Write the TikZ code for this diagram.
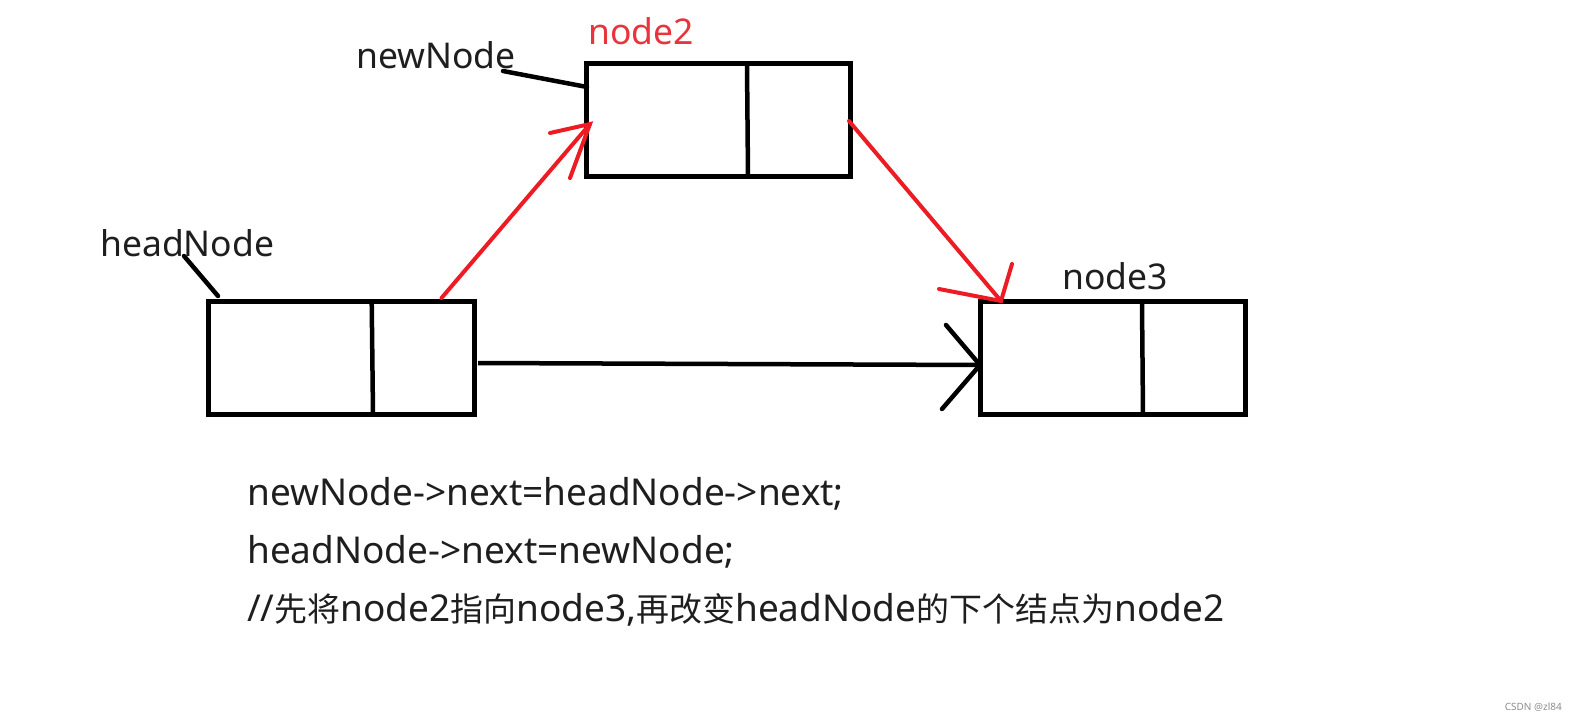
\documentclass[tikz,border=0pt]{standalone}
\usepackage{fontspec}
\setmainfont{Noto Sans}
\newfontfamily\cjk[Scale=0.89]{Noto Sans CJK SC}
\definecolor{pen}{HTML}{ED1C24}
\definecolor{lbl}{HTML}{E8343C}
\definecolor{ink}{HTML}{1E1E1E}
\begin{document}
\begin{tikzpicture}[x=1pt,y=-1pt,
  box/.style={draw=black,line width=5pt,rectangle,inner sep=0pt,outer sep=0pt,minimum width=#1,minimum height=113pt},
  lab/.style={anchor=base west,inner sep=0pt,text=ink,font=\fontsize{35.5}{40}\selectfont},
  code/.style={anchor=base west,inner sep=0pt,text=ink,font=\fontsize{37}{44}\selectfont},
  blk/.style={draw=black,line width=4.5pt,line cap=round},
  red/.style={draw=pen,line width=4pt,line cap=round}]
\useasboundingbox (0,0) rectangle (1572,723);
% boxes
\node[box=266pt] (h) at (341.7,358) {};
\node[box=264pt] (n2) at (718,120.2) {};
\node[box=265pt] (n3) at (1112.5,358) {};
% dividers
\draw[blk,line cap=butt] (371.7,302) -- (373,414);
\draw[blk,line cap=butt] (747,65) -- (748,176);
\draw[blk,line cap=butt] (1142,304) -- (1143,414);
% labels
\node[lab] (tH) at (100,256) {headNode};
\node[lab] (tN) at (356,68) {newNode};
\node[lab,text=lbl] (t2) at (588,44) {node2};
\node[lab] (t3) at (1062,289) {node3};
% pointer lines
\coordinate (pH1) at (184,256); \coordinate (pH2) at (218,296);
\draw[blk] (pH1) -- (pH2);
\coordinate (pN1) at (503,71); \coordinate (pN2) at (587,87);
\draw[blk] (pN1) -- (pN2);
% black arrow headNode -> node3
\coordinate (bS) at (478,363); \coordinate (bT) at (980,365);
\coordinate (bA) at (946,325); \coordinate (bB) at (942,409);
\draw[blk,line cap=butt] (bS) -- (bT);
\draw[blk] (bA) -- (bT) -- (bB);
% red arrow headNode -> node2
\coordinate (r1S) at (441.5,298); \coordinate (r1T) at (590,124);
\coordinate (r1A) at (550,133); \coordinate (r1B) at (570,178);
\draw[red] (r1S) -- (r1T);
\draw[red] (r1A) -- (r1T) -- (r1B);
% red arrow node2 -> node3
\coordinate (r2S) at (849,121); \coordinate (r2T) at (1001,301);
\coordinate (r2A) at (939,289); \coordinate (r2B) at (1012,264);
\draw[red] (r2S) -- (r2T);
\draw[red] (r2A) -- (r2T) -- (r2B);
% code
\node[code] (c1) at (247,505) {newNode->next=headNode->next;};
\node[code] (c2) at (247,563) {headNode->next=newNode;};
\node[code] (c3) at (247,621) {//{\cjk 先将}node2{\cjk 指向}node3,{\cjk 再改变}headNode{\cjk 的下个结点为}node2};
% watermark
\node[anchor=base east,inner sep=0pt,text=black!45,font=\fontsize{10}{12}\selectfont] (wm) at (1562,710) {CSDN @zl84};
\end{tikzpicture}
\end{document}
